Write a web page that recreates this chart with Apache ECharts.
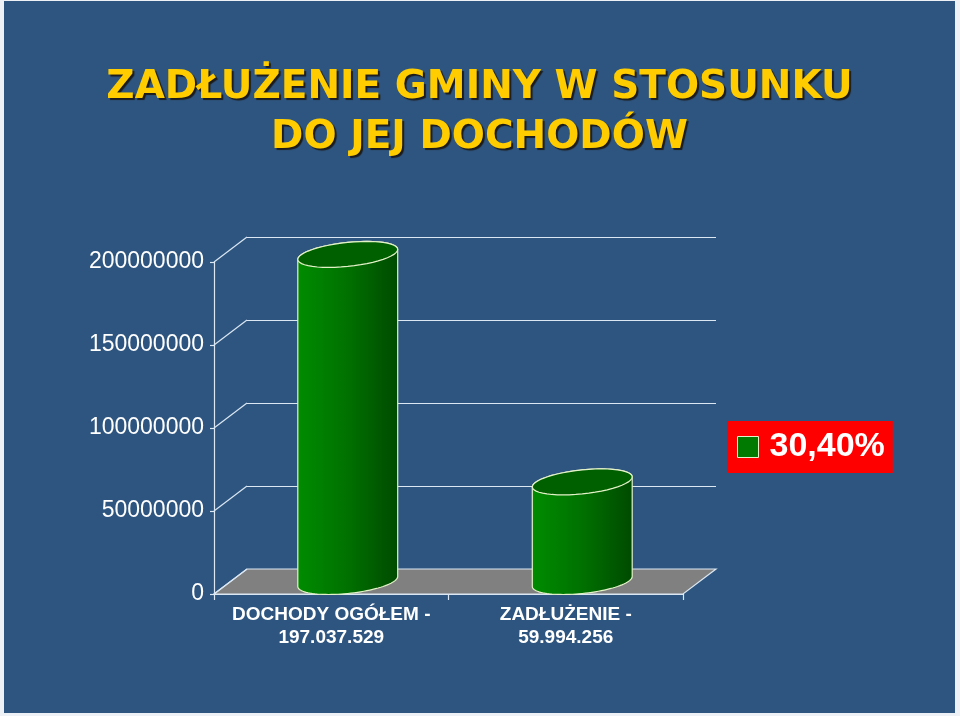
<!DOCTYPE html>
<html>
<head>
<meta charset="utf-8">
<title>Zadłużenie gminy</title>
<script src="https://cdn.jsdelivr.net/npm/echarts@6/dist/echarts.min.js"></script>
<style>
  html, body { margin: 0; padding: 0; background: #eef2f6; }
  #main { position: absolute; left: 4px; top: 1px; width: 951px; height: 712px; }
</style>
</head>
<body>
<div id="main"></div>
<script>
var categories = ["DOCHODY OGÓŁEM -\n197.037.529", "ZADŁUŻENIE -\n59.994.256"];
var values = [197037529, 59994256];
var yTicks = [0, 50000000, 100000000, 150000000, 200000000];
var seriesName = "30,40%";

var lineColor = "#dbe7f2";
var rimColor = "#e4f2c8";
var depth = [33, -25]; // przesuniecie tylnej sciany (3D)

var myChart = echarts.init(document.getElementById("main"));

// punkty elipsy (lekko pochylonej) od kata "from" do "to"
function ellipsePoints(cx, cy, rx, ry, tilt, from, to) {
  var pts = [];
  var n = 48;
  for (var k = 0; k <= n; k++) {
    var t = from + (to - from) * k / n;
    pts.push([cx + rx * Math.cos(t), cy + ry * Math.sin(t) - tilt * Math.cos(t)]);
  }
  return pts;
}

function renderCylinder(params, api) {
  var top = api.coord([api.value(0), api.value(1)]);
  var base = api.coord([api.value(0), 0]);
  var cx = top[0] + depth[0] / 2;
  var topY = top[1] + depth[1] / 2;
  var baseY = base[1] + depth[1] / 2;
  var rx = api.size([1, 0])[0] * 0.213;
  var ry = 12, tilt = 5;
  var body = ellipsePoints(cx, topY, rx, ry, tilt, Math.PI, 2 * Math.PI)
    .concat(ellipsePoints(cx, baseY, rx, ry, tilt, 0, Math.PI));
  return {
    type: "group",
    children: [
      {
        type: "polygon",
        shape: { points: body },
        style: {
          fill: new echarts.graphic.LinearGradient(0, 0, 1, 0, [
            { offset: 0, color: "#008c00" },
            { offset: 0.5, color: "#007100" },
            { offset: 1, color: "#004a00" }
          ]),
          stroke: rimColor,
          lineWidth: 1.2
        }
      },
      {
        type: "polygon",
        shape: { points: ellipsePoints(cx, topY, rx, ry, tilt, 0, 2 * Math.PI) },
        style: { fill: "#006000", stroke: rimColor, lineWidth: 1.2 }
      }
    ]
  };
}

function renderFloor(params, api) {
  var cs = params.coordSys;
  var y0 = api.coord([0, 0])[1];
  return {
    type: "polygon",
    shape: {
      points: [
        [cs.x, y0],
        [cs.x + cs.width, y0],
        [cs.x + cs.width + depth[0], y0 + depth[1]],
        [cs.x + depth[0], y0 + depth[1]]
      ]
    },
    style: { fill: "#808080", stroke: lineColor, lineWidth: 1.2 }
  };
}

function renderDiagonal(params, api) {
  var cs = params.coordSys;
  var y = api.coord([0, api.value(1)])[1];
  return {
    type: "line",
    shape: { x1: cs.x, y1: y, x2: cs.x + depth[0], y2: y + depth[1] },
    style: { stroke: lineColor, lineWidth: 1.2 }
  };
}

option = {
  backgroundColor: "#2d5580",
  animation: false,
  title: {
    text: "ZADŁUŻENIE GMINY W STOSUNKU\nDO JEJ DOCHODÓW",
    left: "center",
    top: 57,
    textStyle: {
      color: "#ffcc00",
      fontFamily: "DejaVu Sans",
      fontWeight: "bold",
      fontSize: 39,
      lineHeight: 50,
      textShadowColor: "#1b1b1b",
      textShadowOffsetX: 2,
      textShadowOffsetY: 2,
      textShadowBlur: 1
    }
  },
  legend: {
    left: 723,
    top: 420,
    data: [{
      name: seriesName,
      icon: "rect",
      itemStyle: { color: "#007a00", borderColor: rimColor, borderWidth: 1 }
    }],
    backgroundColor: "#ff0000",
    padding: [9, 8, 9, 10],
    itemWidth: 21,
    itemHeight: 21,
    textStyle: {
      color: "#fff",
      fontSize: 34,
      lineHeight: 31,
      fontWeight: "bold",
      fontFamily: "Liberation Sans",
      padding: [0, 0, 0, 6]
    }
  },
  grid: [
    { left: 210, top: 261, width: 469, height: 332 }, // przod
    { left: 243, top: 236, width: 469, height: 332 }  // tylna sciana
  ],
  xAxis: [
    {
      type: "category",
      gridIndex: 0,
      data: categories,
      axisLine: { lineStyle: { color: lineColor, width: 1.2 } },
      axisTick: { show: true, length: 6, lineStyle: { color: lineColor, width: 1.2 } },
      axisLabel: {
        interval: 0,
        color: "#fff",
        fontSize: 19,
        fontWeight: "bold",
        fontFamily: "Liberation Sans",
        lineHeight: 23,
        margin: 9
      },
      splitLine: { show: false }
    },
    {
      type: "category",
      gridIndex: 1,
      data: categories,
      show: false
    }
  ],
  yAxis: [
    {
      type: "value",
      gridIndex: 0,
      min: yTicks[0],
      max: yTicks[yTicks.length - 1],
      interval: yTicks[1] - yTicks[0],
      axisLine: { show: true, lineStyle: { color: lineColor, width: 1.2 } },
      axisTick: { show: true, length: 4, lineStyle: { color: lineColor, width: 1.2 } },
      axisLabel: {
        color: "#fff",
        fontSize: 23,
        fontFamily: "Liberation Sans",
        margin: 10,
        formatter: function (v) { return String(v); }
      },
      splitLine: { show: false }
    },
    {
      type: "value",
      gridIndex: 1,
      min: yTicks[0],
      max: yTicks[yTicks.length - 1],
      interval: yTicks[1] - yTicks[0],
      axisLine: { show: false },
      axisTick: { show: false },
      axisLabel: { show: false },
      splitLine: { show: true, lineStyle: { color: lineColor, width: 1.2 } }
    }
  ],
  series: [
    {
      type: "custom",
      xAxisIndex: 0,
      yAxisIndex: 0,
      renderItem: renderFloor,
      data: [[0, 0]],
      z: 1,
      silent: true
    },
    {
      type: "custom",
      xAxisIndex: 0,
      yAxisIndex: 0,
      renderItem: renderDiagonal,
      data: yTicks.map(function (v) { return [0, v]; }),
      z: 1,
      silent: true
    },
    {
      name: seriesName,
      type: "custom",
      xAxisIndex: 0,
      yAxisIndex: 0,
      renderItem: renderCylinder,
      itemStyle: { color: "#007a00" },
      encode: { x: 0, y: 1 },
      data: values.map(function (v, i) { return [i, v]; }),
      z: 3
    }
  ]
};
myChart.setOption(option);
</script>
</body>
</html>
